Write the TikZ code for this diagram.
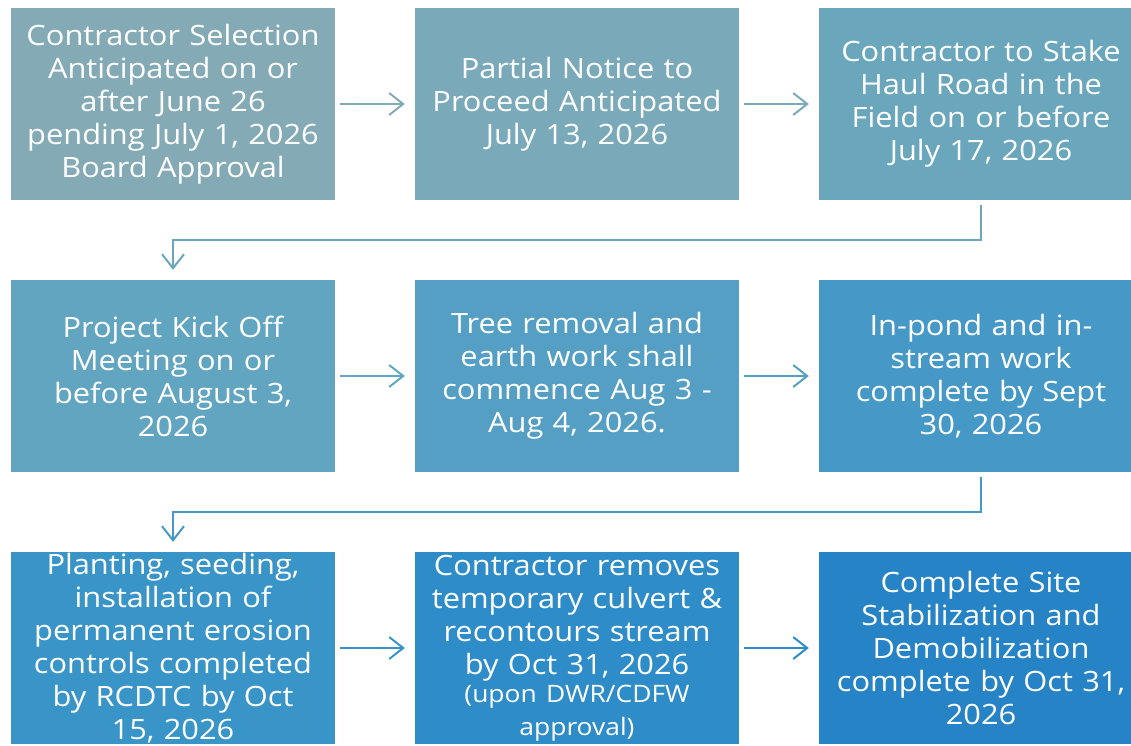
\documentclass[tikz,border=0pt]{standalone}
\usepackage{fontspec}
\setmainfont{Open Sans}[FakeStretch=1.1]
\usetikzlibrary{arrows.meta}

\definecolor{stepa}{HTML}{84AAB5}
\definecolor{stepb}{HTML}{7AAAB9}
\definecolor{stepc}{HTML}{6AA6BC}
\definecolor{stepd}{HTML}{62A5C0}
\definecolor{stepe}{HTML}{549FC3}
\definecolor{stepf}{HTML}{4699C6}
\definecolor{stepg}{HTML}{3994C8}
\definecolor{steph}{HTML}{2E8CC8}
\definecolor{stepi}{HTML}{2583C6}

\begin{document}
\begin{tikzpicture}[x=1pt,y=-1pt,
    box/.style={rectangle,minimum width=324pt,minimum height=192pt,inner sep=0pt,
      text width=320pt,align=center,text=white,font=\fontsize{28}{33}\selectfont},
    link/.style={line width=2pt,shorten <=5pt,shorten >=10pt,
      -{Straight Barb[length=14pt,width=22pt,line width=2pt]}}]

      \useasboundingbox (0,0) rectangle (1131,745);

      \node[box,fill=stepa] (select) at (173,104){Contractor Selection\\Anticipated on or\\after June 26\\pending July 1, 2026\\Board Approval};
      \node[box,fill=stepb] (notice) at (577,104){Partial Notice to\\Proceed Anticipated\\July 13, 2026};
      \node[box,fill=stepc] (stake) at (981,104){Contractor to Stake\\Haul Road in the\\Field on or before\\July 17, 2026};

      \node[box,fill=stepd] (kickoff) at (173,376){Project Kick Off\\Meeting on or\\before August 3,\\2026};
      \node[box,fill=stepe] (trees) at (577,376){Tree removal and\\earth work shall\\commence Aug 3 -\\Aug 4, 2026.};
      \node[box,fill=stepf] (instream) at (981,376){In-pond and in-\\stream work\\complete by Sept\\30, 2026};

      \node[box,fill=stepg] (planting) at (173,648){Planting, seeding,\\installation of\\permanent erosion\\controls completed\\by RCDTC by Oct\\15, 2026};
      \node[box,fill=steph] (culvert) at (577,648){Contractor removes\\temporary culvert \&\\recontours stream\\by Oct 31, 2026\\{\fontsize{24}{28}\selectfont (upon DWR/CDFW\\approval)}};
      \node[box,fill=stepi] (demob) at (981,648){Complete Site\\Stabilization and\\Demobilization\\complete by Oct 31,\\2026};

      \draw[link,stepa] (select) -- (notice);
      \draw[link,stepb] (notice) -- (stake);
      \draw[link,stepc] (stake.south) -- ++(0,40) -| (kickoff.north);

      \draw[link,stepd] (kickoff) -- (trees);
      \draw[link,stepe] (trees) -- (instream);
      \draw[link,stepf] (instream.south) -- ++(0,40) -| (planting.north);

      \draw[link,stepg] (planting) -- (culvert);
      \draw[link,steph] (culvert) -- (demob);

\end{tikzpicture}
\end{document}
